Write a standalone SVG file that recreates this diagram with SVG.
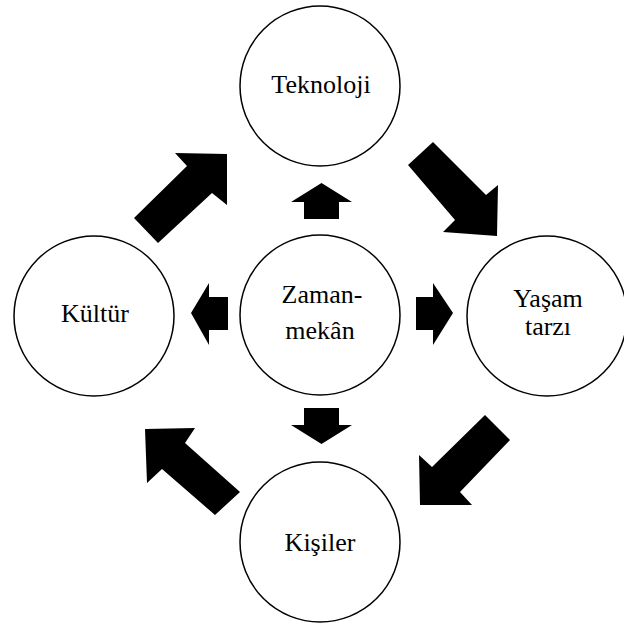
<svg xmlns="http://www.w3.org/2000/svg" width="624" height="623" viewBox="0 0 624 623">
<style>
.node circle{fill:#fff;stroke:#000;stroke-width:1.5}
.node text{font-family:'Liberation Serif','Times New Roman',serif;font-size:26px;fill:#000;text-anchor:middle}
.arr polygon{fill:#000}
</style>
<rect width="624" height="623" fill="#fff"/>
<g id="teknoloji" class="node"><circle cx="320" cy="86" r="80"/><text x="321" y="93">Teknoloji</text></g>
<g id="kultur" class="node"><circle cx="94" cy="316" r="80"/><text x="95" y="322">Kültür</text></g>
<g id="zaman" class="node"><circle cx="320" cy="315" r="80"/><text x="322" y="303">Zaman-</text><text x="320" y="339">mekân</text></g>
<g id="yasam" class="node"><circle cx="547" cy="316" r="80"/><text x="548" y="307">Yaşam</text><text x="548" y="335">tarzı</text></g>
<g id="kisiler" class="node"><circle cx="320" cy="542" r="80"/><text x="320" y="551">Kişiler</text></g>
<g id="connectors" class="arr">
<polygon points="304,219 304,202 291,202 321.5,183 352,202 339,202 339,219"/>
<polygon points="228,297 209,297 209,283 191,313 209,345 209,330 228,330"/>
<polygon points="416,297 433,297 433,283 453,313 433,345 433,330 416,330"/>
<polygon points="304,408 339,408 339,425 352,425 321.5,444 291,425 304,425"/>
<polygon points="134,218 187,166 175,153 227,154 227,205 212,193 158,243"/>
<polygon points="433,142 486,195 498,185 497,236 443,232 455,220 408,165"/>
<polygon points="485,415 510,440 460,492 472,505 420,505 419,455 432,467"/>
<polygon points="145,429 195,428 185,443 240,492 215,515 162,469 147,483"/>
</g>
</svg>
